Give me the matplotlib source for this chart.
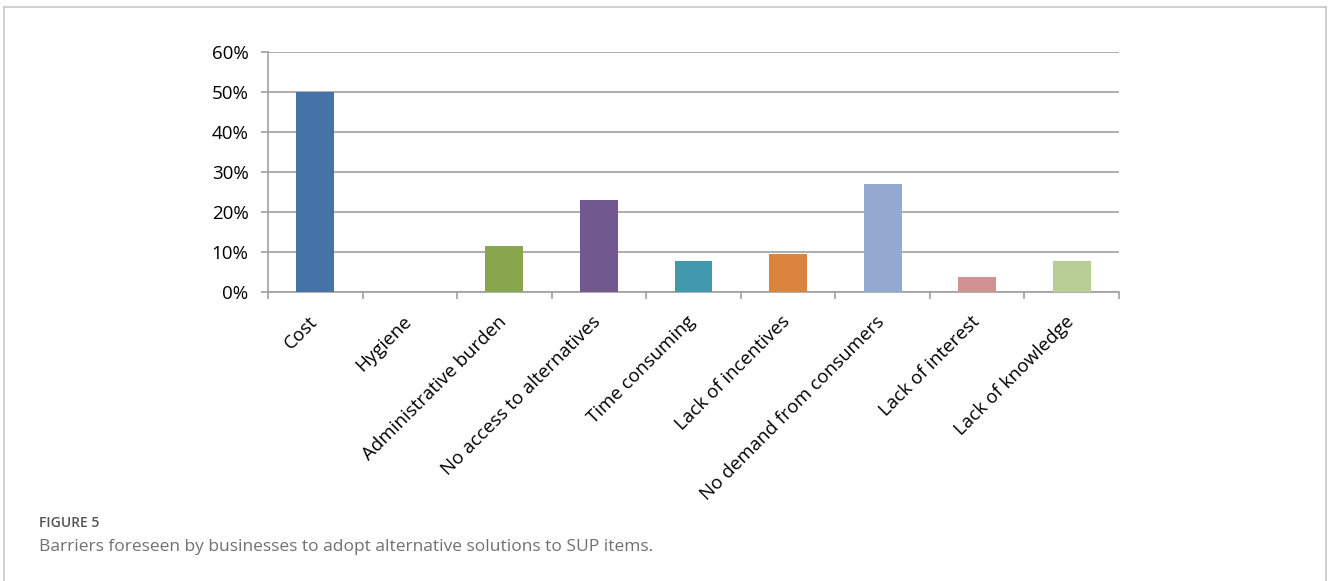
import matplotlib.pyplot as plt
from matplotlib.lines import Line2D
from matplotlib.ticker import PercentFormatter
from matplotlib.transforms import ScaledTranslation

categories = ["Cost", "Hygiene", "Administrative burden", "No access to alternatives",
              "Time consuming", "Lack of incentives", "No demand from consumers",
              "Lack of interest", "Lack of knowledge"]
shares = [0.50, 0.0, 0.115, 0.231, 0.077, 0.096, 0.269, 0.038, 0.077]
colors = ["#4572A7", "#AA4643", "#89A54E", "#71588F", "#4198AF",
          "#DB843D", "#93A9CF", "#D19392", "#B9CD96"]

plt.rcParams['font.family'] = ['Open Sans', 'DejaVu Sans']

W, H = 1328, 581
fig = plt.figure(figsize=(W / 100, H / 100), dpi=100)
ax = fig.add_axes([268 / W, 1 - 292 / H, 851 / W, 240 / H])

x = range(len(categories))
ax.bar(x, shares, width=0.4, color=colors, zorder=3)

ax.set_xlim(-0.5, len(categories) - 0.5)
ax.set_ylim(0, 0.6)
ax.set_yticks([0, 0.1, 0.2, 0.3, 0.4, 0.5, 0.6])
ax.yaxis.set_major_formatter(PercentFormatter(1.0, decimals=0))
ax.grid(axis='y', color='#a0a0a0', linewidth=1.2, zorder=0)

for s in ['top', 'right']:
    ax.spines[s].set_visible(False)
for s in ['left', 'bottom']:
    ax.spines[s].set_color('#a0a0a0')
    ax.spines[s].set_linewidth(1.2)

ax.set_xticks(list(x))
ax.set_xticklabels(categories, rotation=45, ha='right', rotation_mode='anchor',
                   fontsize=13.5)
ax.set_xticks([i - 0.5 for i in range(len(categories) + 1)], minor=True)
ax.tick_params(axis='x', which='major', length=0, pad=12)
ax.tick_params(axis='x', which='minor', length=5, color='#a0a0a0', width=1.2)
ax.tick_params(axis='y', length=5, color='#a0a0a0', width=1.2, labelsize=13.5, pad=9)

# nudge rotated labels a little down-left
shift = ScaledTranslation(-7 / 100, -4 / 100, fig.dpi_scale_trans)
for lab in ax.get_xticklabels():
    lab.set_transform(lab.get_transform() + shift)

# outer frame
frame_kw = dict(color='#c8c8c8', linewidth=1.2, transform=fig.transFigure)
fig.add_artist(Line2D([4 / W, 4 / W], [0, 1 - 7 / H], **frame_kw))
fig.add_artist(Line2D([4 / W, 1326 / W], [1 - 7 / H, 1 - 7 / H], **frame_kw))
fig.add_artist(Line2D([1326 / W, 1326 / W], [0, 1 - 7 / H], **frame_kw))

fig.text(39 / W, 1 - 523 / H, "FIGURE 5", fontsize=10, fontweight='semibold',
         color='#555555', va='center')
fig.text(39 / W, 1 - 547 / H,
         "Barriers foreseen by businesses to adopt alternative solutions to SUP items.",
         fontsize=12.5, color='#707070', va='center')

fig.savefig("out.png", dpi=100)
